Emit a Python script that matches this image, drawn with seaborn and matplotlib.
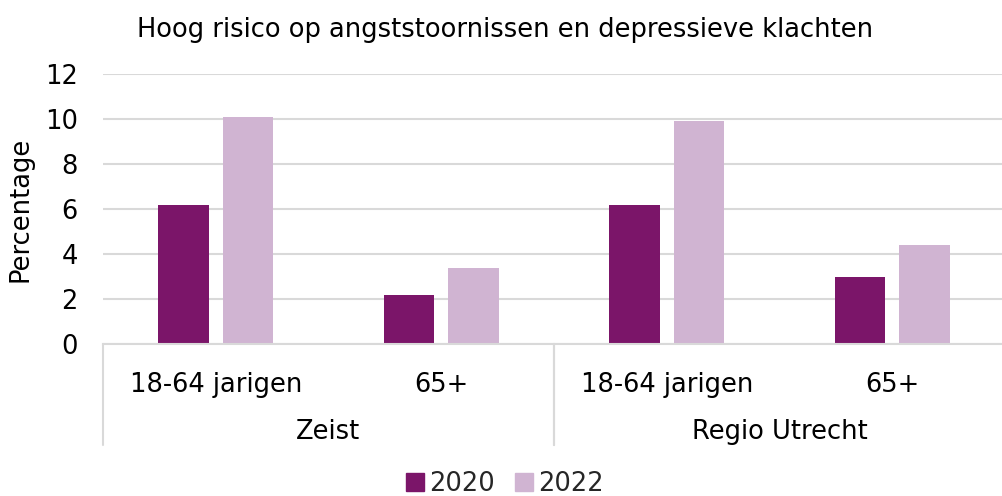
import matplotlib
matplotlib.use("Agg")
import matplotlib.pyplot as plt
import matplotlib.transforms as mtransforms
import seaborn as sns
import pandas as pd

# Data
regions = ["Zeist", "Zeist", "Regio Utrecht", "Regio Utrecht"]
age_groups = ["18-64 jarigen", "65+", "18-64 jarigen", "65+"]
values_2020 = [6.2, 2.2, 6.2, 3.0]
values_2022 = [10.1, 3.4, 9.9, 4.4]
years = ["2020", "2022"]
title = "Hoog risico op angststoornissen en depressieve klachten"
y_label = "Percentage"
y_ticks = [0, 2, 4, 6, 8, 10, 12]

colors = {"2020": "#7B1569", "2022": "#D0B4D2"}
FS = 18.5

rows = []
for i in range(len(regions)):
    cat = f"{regions[i]}|{age_groups[i]}"
    rows.append({"cat": cat, "year": "2020", "value": values_2020[i]})
    rows.append({"cat": cat, "year": "2022", "value": values_2022[i]})
df = pd.DataFrame(rows)
order = [f"{r}|{a}" for r, a in zip(regions, age_groups)]

sns.set_theme(style="white")
plt.rcParams["font.family"] = ["DejaVu Sans"]

fig = plt.figure(figsize=(10.03, 4.96), dpi=100)
ax = fig.add_axes([103 / 1003, 1 - 344 / 496, 902 / 1003, (344 - 74) / 496])

sns.barplot(data=df, x="cat", y="value", hue="year", order=order, hue_order=years,
            palette=colors, width=0.572, gap=0.213, ax=ax, legend=False,
            saturation=1, edgecolor="none", linewidth=0)

ax.set_ylim(0, 12)
ax.set_xlim(-0.5, 3.5)
ax.set_yticks(y_ticks)
ax.set_yticklabels([str(t) for t in y_ticks], fontsize=FS, color="#000000")
ax.yaxis.grid(True, color="#D9D9D9", linewidth=1.5)
ax.set_axisbelow(True)
for s in ["top", "right", "left"]:
    ax.spines[s].set_visible(False)
ax.spines["bottom"].set_color("#D9D9D9")
ax.spines["bottom"].set_linewidth(1.5)
ax.tick_params(axis="y", length=0, pad=18)
ax.tick_params(axis="x", length=0, pad=20)
ax.set_xticks(range(len(order)))
ax.set_xticklabels(age_groups, fontsize=FS, color="#000000")
ax.set_xlabel("")
ax.set_ylabel(y_label, fontsize=FS, color="#000000", labelpad=8)

# Group labels and separators
trans = mtransforms.blended_transform_factory(ax.transData, ax.transAxes)
groups = []
for i, r in enumerate(regions):
    if not groups or groups[-1][0] != r:
        groups.append([r, i, i])
    else:
        groups[-1][2] = i
sep_bottom = -(445 - 344) / (344 - 74)
label_y = -(432 - 344) / (344 - 74)
for name, a, b in groups:
    ax.text((a + b) / 2, label_y, name, transform=trans, ha="center", va="center",
            fontsize=FS, color="#000000")
    for x in (a - 0.5, b + 0.5):
        ax.plot([x, x], [0, sep_bottom], transform=trans, color="#D9D9D9",
                linewidth=1.5, clip_on=False)

fig.text(505 / 1003, 1 - 30 / 496, title, ha="center", va="center", fontsize=FS, color="#000000")

handles = [plt.Rectangle((0, 0), 1, 1, color=colors[y]) for y in years]
fig.legend(handles, years, loc="center", bbox_to_anchor=(505 / 1003, 1 - 484 / 496),
           ncol=2, frameon=False, fontsize=FS, handlelength=0.7, handleheight=0.7,
           handletextpad=0.2, columnspacing=0.8)

fig.savefig("out.png", dpi=100)
